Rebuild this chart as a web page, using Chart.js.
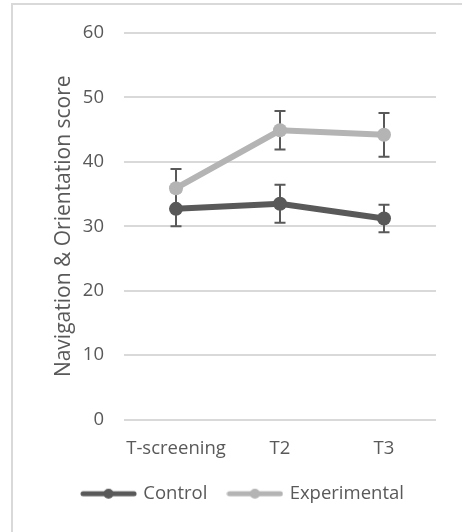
<!DOCTYPE html>
<html>
<head>
<meta charset="utf-8">
<script src="https://cdn.jsdelivr.net/npm/chart.js@4"></script>
<style>
  html, body { margin: 0; padding: 0; background: #ffffff; overflow: hidden; }
  #wrap { position: relative; width: 462px; height: 532px; }
</style>
</head>
<body>
<div id="wrap"><canvas id="chart" width="462" height="532"></canvas></div>
<script>
// Time points
const categories = ['T-screening', 'T2', 'T3'];

// Mean Navigation & Orientation score per group
const controlMeans = [32.7, 33.5, 31.2];
const experimentalMeans = [35.9, 44.9, 44.2];

// Error bar half-lengths (±) per group
const controlErr = [2.7, 2.95, 2.15];
const experimentalErr = [3.0, 3.0, 3.4];

// Y axis ticks
const yTicks = [0, 10, 20, 30, 40, 50, 60];

const TEXT = '#595959';
const GRID = '#d9d9d9';
const DARK = '#595959';
const LIGHT = '#b4b4b4';
const FONT = '"Open Sans", "Liberation Sans", sans-serif';

// Legend swatch: a line with a round marker in the middle
function legendSwatch(color) {
  const c = document.createElement('canvas');
  c.width = 57; c.height = 14;
  const g = c.getContext('2d');
  g.strokeStyle = color; g.lineWidth = 5; g.lineCap = 'round';
  g.beginPath(); g.moveTo(3, 7); g.lineTo(54, 7); g.stroke();
  g.fillStyle = color;
  g.beginPath(); g.arc(28.5, 7, 5, 0, Math.PI * 2); g.fill();
  return c;
}

// Light frame along the left and top edge
const framePlugin = {
  id: 'frame',
  beforeDraw(chart) {
    const ctx = chart.ctx;
    ctx.save();
    ctx.fillStyle = GRID;
    ctx.fillRect(11, 3, 2, 540);
    ctx.fillRect(11, 3, 470, 2);
    ctx.restore();
  }
};

// Vertical error bars with caps, drawn behind the lines
const errorBarPlugin = {
  id: 'errorBars',
  beforeDatasetsDraw(chart) {
    const ctx = chart.ctx;
    const xs = chart.scales.x, ys = chart.scales.y;
    ctx.save();
    ctx.strokeStyle = DARK;
    ctx.lineWidth = 2;
    chart.data.datasets.forEach(ds => {
      ds.data.forEach((v, i) => {
        const e = ds.errors[i];
        const x = xs.getPixelForValue(i);
        const yTop = ys.getPixelForValue(v + e);
        const yBot = ys.getPixelForValue(v - e);
        ctx.beginPath();
        ctx.moveTo(x, yTop); ctx.lineTo(x, yBot);
        ctx.moveTo(x - 5.5, yTop); ctx.lineTo(x + 5.5, yTop);
        ctx.moveTo(x - 5.5, yBot); ctx.lineTo(x + 5.5, yBot);
        ctx.stroke();
      });
    });
    ctx.restore();
  }
};

new Chart(document.getElementById('chart'), {
  type: 'line',
  data: {
    labels: categories,
    datasets: [
      {
        label: 'Control',
        data: controlMeans,
        errors: controlErr,
        borderColor: DARK,
        backgroundColor: DARK,
        borderWidth: 6,
        pointRadius: 7,
        pointHoverRadius: 7,
        pointBorderWidth: 0,
        pointStyle: 'circle',
        tension: 0,
        legendSwatch: legendSwatch(DARK)
      },
      {
        label: 'Experimental',
        data: experimentalMeans,
        errors: experimentalErr,
        borderColor: LIGHT,
        backgroundColor: LIGHT,
        borderWidth: 6,
        pointRadius: 7,
        pointHoverRadius: 7,
        pointBorderWidth: 0,
        pointStyle: 'circle',
        tension: 0,
        legendSwatch: legendSwatch(LIGHT)
      }
    ]
  },
  options: {
    responsive: false,
    animation: false,
    devicePixelRatio: 1,
    layout: { padding: { left: 51, right: 26, top: 33, bottom: 19 } },
    plugins: {
      tooltip: { enabled: false },
      legend: {
        position: 'bottom',
        labels: {
          color: TEXT,
          font: { family: FONT, size: 18.5 },
          usePointStyle: true,
          pointStyleWidth: 51,
          boxHeight: 14,
          padding: 22,
          generateLabels(chart) {
            return chart.data.datasets.map((ds, i) => ({
              text: ds.label,
              fontColor: TEXT,
              pointStyle: ds.legendSwatch,
              datasetIndex: i,
              hidden: false,
              lineWidth: 0
            }));
          }
        }
      }
    },
    scales: {
      x: {
        offset: true,
        grid: { display: false, drawTicks: false },
        border: { display: false },
        ticks: {
          color: TEXT,
          font: { family: FONT, size: 18.5 },
          padding: 18,
          maxRotation: 0,
          minRotation: 0,
          autoSkip: false
        },
        afterFit(scale) { scale.height = 43; }
      },
      y: {
        min: 0,
        max: 60,
        afterBuildTicks(scale) { scale.ticks = yTicks.map(v => ({ value: v })); },
        grid: { color: GRID, lineWidth: 2, drawTicks: false },
        border: { display: false },
        ticks: { color: TEXT, font: { family: FONT, size: 18.5 }, padding: 20 },
        title: {
          display: true,
          text: 'Navigation & Orientation score',
          color: TEXT,
          font: { family: FONT, size: 21 },
          padding: 0
        },
        afterFit(scale) { scale.width = 124 - 51; }
      }
    }
  },
  plugins: [framePlugin, errorBarPlugin]
});
</script>
</body>
</html>
